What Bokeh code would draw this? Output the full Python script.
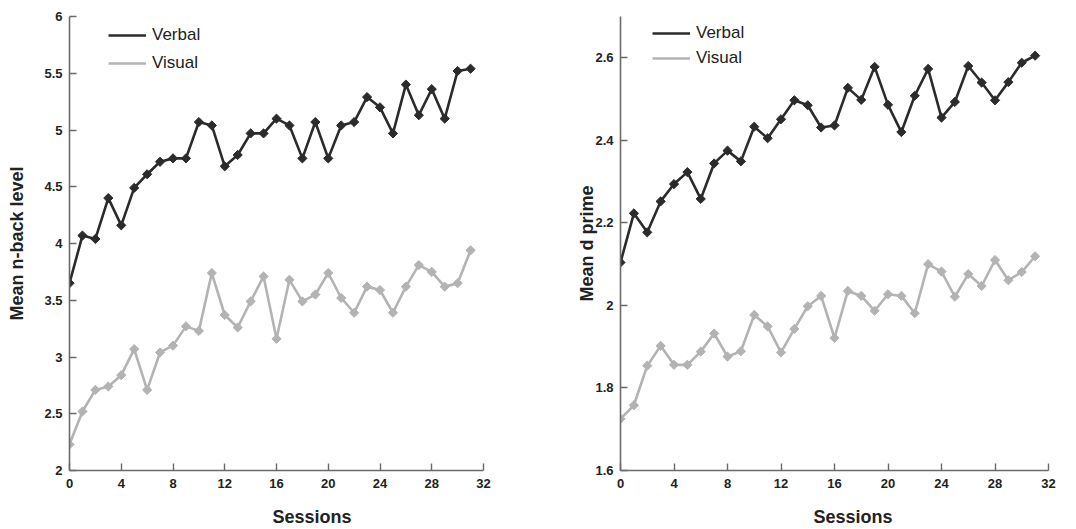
import math
from bokeh.plotting import figure
from bokeh.layouts import row
from bokeh.models import FixedTicker, Legend, LegendItem, Range1d, Title, LinearAxis
from bokeh.embed import file_html
from bokeh.resources import INLINE

sessions = list(range(32))

nback_verbal = [3.65, 4.07, 4.04, 4.40, 4.16, 4.49, 4.61, 4.72, 4.75, 4.75,
                5.07, 5.04, 4.68, 4.78, 4.97, 4.97, 5.10, 5.04, 4.75, 5.07,
                4.75, 5.04, 5.07, 5.29, 5.20, 4.97, 5.40, 5.13, 5.36, 5.10,
                5.52, 5.54]
nback_visual = [2.23, 2.52, 2.71, 2.74, 2.84, 3.07, 2.71, 3.04, 3.10, 3.27,
                3.23, 3.74, 3.37, 3.26, 3.49, 3.71, 3.16, 3.68, 3.49, 3.55,
                3.74, 3.52, 3.39, 3.62, 3.59, 3.39, 3.62, 3.81, 3.75, 3.62,
                3.65, 3.94]

dprime_verbal = [2.104, 2.223, 2.177, 2.252, 2.294, 2.323, 2.258, 2.344, 2.375, 2.349,
                 2.433, 2.405, 2.451, 2.497, 2.485, 2.431, 2.436, 2.527, 2.498, 2.578,
                 2.486, 2.420, 2.508, 2.573, 2.455, 2.493, 2.580, 2.540, 2.497, 2.541,
                 2.588, 2.605]
dprime_visual = [1.725, 1.758, 1.854, 1.902, 1.856, 1.856, 1.888, 1.932, 1.876, 1.889,
                 1.977, 1.949, 1.886, 1.943, 1.998, 2.023, 1.921, 2.035, 2.023, 1.987,
                 2.027, 2.023, 1.981, 2.100, 2.082, 2.021, 2.076, 2.047, 2.110, 2.061,
                 2.081, 2.119]

x_ticks = [0, 4, 8, 12, 16, 20, 24, 28, 32]
left_y_ticks = [2, 2.5, 3, 3.5, 4, 4.5, 5, 5.5, 6]
left_y_labels = ["2", "2.5", "3", "3.5", "4", "4.5", "5", "5.5", "6"]
right_y_ticks = [1.6, 1.8, 2.0, 2.2, 2.4, 2.6]
right_y_labels = ["1.6", "1.8", "2", "2.2", "2.4", "2.6"]

series_names = ["Verbal", "Visual"]
x_label = "Sessions"
left_y_label = "Mean n-back level"
right_y_label = "Mean d prime"

DARK = "#2b2b2b"
LIGHT = "#b3b3b3"
AXIS = "#6a6a6a"
FONT = "Liberation Sans"


def make_panel(width, bl, br, bt, bb, yr, yticks, ylabels, ylabel, ystandoff,
               v1, v2, leg_xy, leg_spacing, xlab_offset, xlab_gap):
    p = figure(width=width, height=529, output_backend="svg", toolbar_location=None,
               x_range=Range1d(0, 32), y_range=Range1d(*yr),
               min_border_left=bl, min_border_right=br, min_border_top=bt, min_border_bottom=bb)
    p.outline_line_color = None
    p.xgrid.visible = False
    p.ygrid.visible = False
    p.background_fill_color = "white"
    p.border_fill_color = "white"

    r1 = p.line(sessions, v1, line_color=DARK, line_width=2.6)
    p.scatter(sessions, v1, marker="square", angle=math.pi / 4, size=6.5,
              fill_color=DARK, line_color=DARK, line_width=1)
    r2 = p.line(sessions, v2, line_color=LIGHT, line_width=2.6)
    p.scatter(sessions, v2, marker="square", angle=math.pi / 4, size=6.5,
              fill_color=LIGHT, line_color=LIGHT, line_width=1)
    # glyphs used only for the legend swatches
    k1 = p.scatter([], [], marker="diamond", size=12, fill_color=DARK, line_color=DARK)
    k2 = p.scatter([], [], marker="diamond", size=12, fill_color=LIGHT, line_color=LIGHT)

    for ax in (p.xaxis[0], p.yaxis[0]):
        ax.axis_line_color = AXIS
        ax.axis_line_width = 1.6
        ax.major_tick_line_color = AXIS
        ax.major_tick_line_width = 1.4
        ax.major_tick_in = 7
        ax.major_tick_out = 0
        ax.minor_tick_line_color = None
        ax.major_label_text_font = FONT
        ax.major_label_text_font_style = "bold"
        ax.major_label_text_font_size = "13px"
        ax.major_label_text_color = "#222222"
        ax.axis_label_text_font = FONT
        ax.axis_label_text_font_style = "bold"
        ax.axis_label_text_font_size = "18px"
        ax.axis_label_text_color = "#222222"

    p.xaxis.ticker = FixedTicker(ticks=x_ticks)
    p.xaxis.major_label_standoff = 8
    p.yaxis.ticker = FixedTicker(ticks=yticks)
    p.yaxis.major_label_overrides = {t: l for t, l in zip(yticks, ylabels)}
    p.yaxis.axis_label = ylabel
    p.yaxis.major_label_standoff = 7
    p.yaxis.axis_label_standoff = ystandoff

    # invisible spacer between tick labels and the x title
    spacer = LinearAxis(ticker=FixedTicker(ticks=[16]), major_label_overrides={16: ""},
                        axis_line_color=None, major_tick_line_color=None,
                        minor_tick_line_color=None, major_tick_in=0, major_tick_out=xlab_gap,
                        major_label_standoff=0, major_label_text_font_size="1px")
    p.add_layout(spacer, "below")

    # x-axis title, placed slightly right of centre as in the reference
    p.add_layout(Title(text=x_label, align="left", offset=xlab_offset,
                       text_font=FONT, text_font_style="bold", text_font_size="18px",
                       text_color="#222222", standoff=4), "below")

    legend = Legend(items=[LegendItem(label=series_names[0], renderers=[r1, k1]),
                           LegendItem(label=series_names[1], renderers=[r2, k2])],
                    location=leg_xy, padding=0, margin=0, spacing=leg_spacing,
                    border_line_color=None, background_fill_alpha=0,
                    glyph_width=38, glyph_height=20, label_height=20,
                    label_text_font=FONT, label_text_font_size="17px",
                    label_text_color="#222222", label_standoff=6)
    p.add_layout(legend)
    return p


p1 = make_panel(536, 69, 53, 14, 58, (2, 6), left_y_ticks, left_y_labels, left_y_label, 14,
                nback_verbal, nback_visual, (39, 397), 8, 203, 12)
p2 = make_panel(540, 84, 28, 16, 59, (1.6, 2.7), right_y_ticks, right_y_labels, right_y_label, -5,
                dprime_verbal, dprime_visual, (32, 402), 5, 193, 12)

layout = row(p1, p2)
open("out.html", "w").write(file_html(layout, INLINE))
